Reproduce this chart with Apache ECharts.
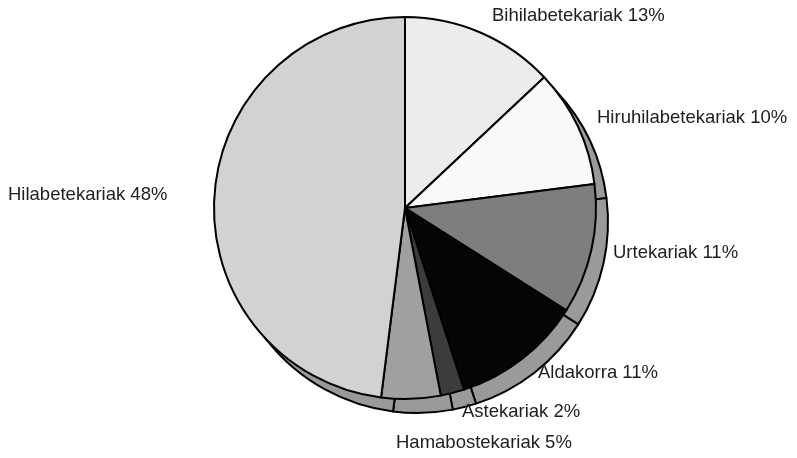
<!DOCTYPE html>
<html>
<head>
<meta charset="utf-8">
<style>
  html, body { margin: 0; padding: 0; background: #ffffff; }
  #chart { width: 797px; height: 458px; }
</style>
<script src="https://cdn.jsdelivr.net/npm/echarts@6/dist/echarts.min.js"></script>
</head>
<body>
<div id="chart"></div>
<script>
// Publication frequency shares (percent), clockwise from 12 o'clock
const categories = [
  'Bihilabetekariak',
  'Hiruhilabetekariak',
  'Urtekariak',
  'Aldakorra',
  'Astekariak',
  'Hamabostekariak',
  'Hilabetekariak'
];
const shares = [13, 10, 11, 11, 2, 5, 48];

// Slice fills, greyscale
const sliceColors = ['#ececec', '#f9f9f9', '#7e7e7e', '#050505', '#3c3c3c', '#a0a0a0', '#d2d2d2'];
const depthColor = '#9a9a9a';

// Label anchor points (left edge, vertical middle)
const labelAnchors = [
  [492, 16],
  [597, 118],
  [613, 253],
  [538, 373],
  [462, 412],
  [396, 443],
  [8, 195]
];

const pieCenter = [405, 208];
const depthOffset = [12, 14];
const pieRadius = 191;

const chart = echarts.init(document.getElementById('chart'), null, { renderer: 'canvas' });

const sliceData = categories.map((name, i) => ({
  name: name,
  value: shares[i],
  itemStyle: { color: sliceColors[i] }
}));

const depthData = categories.map((name, i) => ({
  name: name,
  value: shares[i],
  itemStyle: { color: depthColor }
}));

chart.setOption({
  animation: false,
  backgroundColor: '#ffffff',
  series: [
    {
      // raised edge underneath the disc
      type: 'pie',
      silent: true,
      z: 1,
      center: [pieCenter[0] + depthOffset[0], pieCenter[1] + depthOffset[1]],
      radius: pieRadius,
      startAngle: 90,
      clockwise: true,
      data: depthData,
      itemStyle: { borderColor: '#000000', borderWidth: 2 },
      label: { show: false },
      labelLine: { show: false },
      emphasis: { disabled: true }
    },
    {
      type: 'pie',
      z: 2,
      center: pieCenter,
      radius: pieRadius,
      startAngle: 90,
      clockwise: true,
      data: sliceData,
      itemStyle: { borderColor: '#000000', borderWidth: 2 },
      label: {
        show: true,
        position: 'outside',
        alignTo: 'none',
        overflow: 'none',
        formatter: (p) => p.name + ' ' + shares[p.dataIndex] + '%',
        fontFamily: "'Liberation Sans', Arial, Helvetica, sans-serif",
        fontSize: 18.5,
        color: '#1e1e1e'
      },
      labelLine: { show: false },
      labelLayout: (params) => {
        const a = labelAnchors[params.dataIndex];
        return { x: a[0], y: a[1], align: 'left', verticalAlign: 'middle' };
      },
      emphasis: { disabled: true }
    }
  ]
});
</script>
</body>
</html>
